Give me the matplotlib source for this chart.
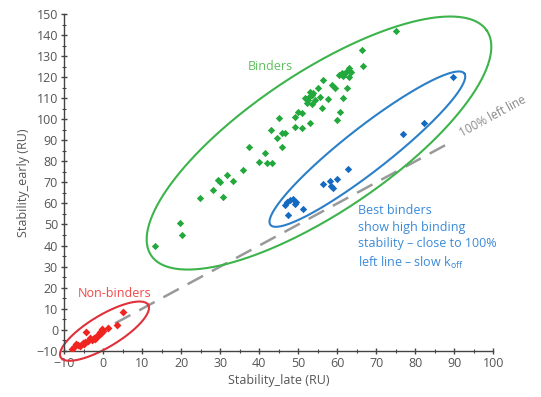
import numpy as np
import matplotlib
matplotlib.use("Agg")
import matplotlib.pyplot as plt

plt.rcParams['font.family'] = ['Open Sans', 'DejaVu Sans']

# Binders (green)
green_late = [75.0, 66.2, 66.5, 62.9, 62.4, 62.0, 62.9, 60.3, 61.5, 62.4, 58.7, 59.4,
              56.4, 55.1, 55.6, 53.0, 53.4, 52.6, 51.7, 54.3, 52.2, 53.4, 56.0, 57.7,
              61.5, 60.7, 59.8, 50.0, 50.9, 49.2, 49.2, 50.9, 53.0, 45.1, 42.9, 44.5,
              45.7, 46.6, 45.7, 37.4, 41.5, 40.0, 41.9, 43.2, 35.9, 31.6, 29.5, 29.9,
              33.3, 28.2, 30.8, 24.8, 19.7, 20.1, 13.3, 63.6, 61.1, 52.8, 53.8]
green_early = [141.8, 133.0, 125.5, 124.2, 123.1, 121.8, 120.2, 121.0, 120.5, 114.7, 116.3, 114.7,
               118.6, 114.7, 110.7, 113.1, 111.5, 109.1, 109.9, 109.1, 107.6, 107.2, 105.2, 109.4,
               109.9, 103.6, 99.6, 103.6, 102.8, 101.2, 96.4, 96.0, 98.3, 100.4, 94.9, 91.2,
               93.6, 93.6, 86.9, 86.9, 84.1, 79.8, 79.0, 79.0, 75.9, 73.5, 71.1, 70.3,
               70.6, 66.3, 63.2, 62.7, 50.8, 45.0, 39.6, 122.6, 122.0, 110.7, 112.5]

# Best binders (blue)
blue_late = [89.7, 82.1, 76.9, 62.8, 56.4, 58.1, 59.8, 58.8, 58.5, 47.0, 47.9, 48.7,
             49.4, 46.6, 49.2, 51.3, 47.4]
blue_early = [120.2, 98.4, 93.0, 76.5, 69.1, 70.8, 71.6, 67.1, 68.2, 60.8, 61.6, 62.0,
              60.8, 59.2, 59.6, 57.2, 54.6]

# Non-binders (red)
red_late = [5.0, 3.4, 1.3, -4.4, -8.1, -7.5, -7.0, -6.0, -5.0, -4.6, -4.0, -3.0, -2.5,
            -2.0, -1.5, -1.0, -0.5, 0.0, -0.3, -1.2, -2.2, -3.4, -5.2, -6.5, -0.8]
red_early = [8.5, 2.0, 0.8, -1.2, -9.3, -8.0, -7.0, -7.6, -6.6, -5.8, -5.2, -4.8, -4.0,
             -3.5, -2.8, -2.0, -1.4, -0.6, 0.3, -2.6, -4.6, -3.8, -6.2, -7.2, -1.0]

x_ticks = list(range(-10, 101, 10))
y_ticks = list(range(-10, 151, 10))

fig = plt.figure(figsize=(5.41, 3.97), dpi=100)
ax = fig.add_axes([0.1189, 0.1166, 0.793, 0.848])
ax.set_xlim(-10, 100)
ax.set_ylim(-10, 150)

for s in ['top', 'right']:
    ax.spines[s].set_visible(False)
for s in ['left', 'bottom']:
    ax.spines[s].set_color('#444444')
    ax.spines[s].set_linewidth(1.0)

ax.set_xticks(x_ticks)
ax.set_yticks(y_ticks)
ax.set_xticks(np.arange(-5, 100, 10), minor=True)
ax.set_yticks(np.arange(-5, 150, 10), minor=True)
ax.tick_params(which='major', direction='inout', length=5, width=1, color='#444444',
               labelsize=9, labelcolor='#555555', pad=2)
ax.tick_params(which='minor', direction='inout', length=3, width=0.8, color='#444444')
ax.set_xlabel('Stability_late (RU)', fontsize=9, color='#555555', labelpad=3)
ax.set_ylabel('Stability_early (RU)', fontsize=9, color='#555555', labelpad=5)

# 100% left line
ax.plot([3, 89], [3, 89], color='#999999', lw=1.8, dashes=(7, 4), zorder=1)
ax.text(99.8, 101.5, '100% left line', rotation=28.4, color='#8a8a8a', fontsize=8.5,
        ha='center', va='center', rotation_mode='anchor')

ax.scatter(green_late, green_early, marker='D', s=14, color='#22a83c', lw=0, zorder=3)
ax.scatter(blue_late, blue_early, marker='D', s=14, color='#1469c0', lw=0, zorder=3)
ax.scatter(red_late, red_early, marker='D', s=16, color='#f02420', lw=0, zorder=3)


def ring(cx, cy, a, b, ang, color):
    # ellipse given in screen pixels around a data-space centre
    t = np.linspace(0, 2 * np.pi, 400)
    th = np.deg2rad(ang)
    c = ax.transData.transform((cx, cy))
    px = c[0] + a * np.cos(t) * np.cos(th) - b * np.sin(t) * np.sin(th)
    py = c[1] + a * np.cos(t) * np.sin(th) + b * np.sin(t) * np.cos(th)
    pts = ax.transData.inverted().transform(np.column_stack([px, py]))
    ax.plot(pts[:, 0], pts[:, 1], color=color, lw=1.5, zorder=2, clip_on=False)


ring(55.3, 88.7, 202, 70, 33.8, '#3cb44b')
ring(67.7, 85.8, 123, 22, 38.0, '#2a7fc8')
ring(0.3, -0.7, 51, 16, 31.0, '#e0303a')

ax.text(42.7, 125.3, 'Binders', color='#5cc05c', fontsize=9, ha='center', va='center')
ax.text(3.0, 17.3, 'Non-binders', color='#f04848', fontsize=9, ha='center', va='center')
ax.text(65.3, 59.5, 'Best binders\nshow high binding\nstability \u2013 close to 100%\n'
        'left line \u2013 slow k$_\\mathregular{off}$',
        color='#3a8ad8', fontsize=9, ha='left', va='top', linespacing=1.35)

fig.savefig('out.png', dpi=100)
